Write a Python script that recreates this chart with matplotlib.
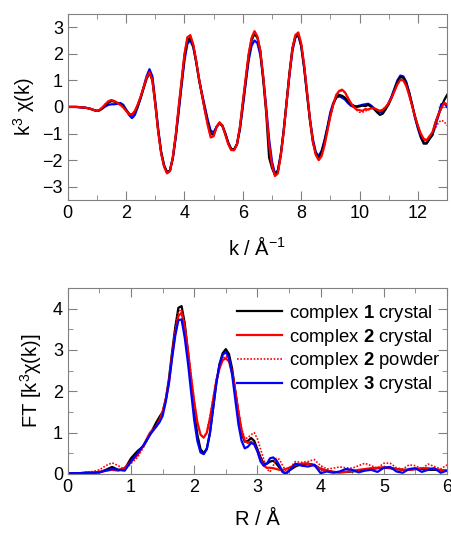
import numpy as np
import matplotlib
matplotlib.use("Agg")
import matplotlib.pyplot as plt
from matplotlib.ticker import MultipleLocator

plt.rcParams['font.family'] = ['Liberation Sans', 'DejaVu Sans']
plt.rcParams['mathtext.fontset'] = 'custom'
plt.rcParams['mathtext.rm'] = 'Liberation Sans'
plt.rcParams['mathtext.bf'] = 'Liberation Sans:bold'

# ---- top panel: k^3 chi(k), k = 0 .. 13 step 0.1
k = np.round(np.arange(0, 13.05, 0.1), 2)

chi_c1 = [0, 0, 0, 0, -0.01, -0.02, -0.03, -0.05, -0.08, -0.12,
          -0.15, -0.12, -0.03, 0.08, 0.17, 0.22, 0.2, 0.15, 0.1, 0.02,
          -0.12, -0.25, -0.3, -0.2, 0.05, 0.35, 0.7, 1.05, 1.28, 1.0,
          0.1, -0.9, -1.7, -2.2, -2.45, -2.4, -1.9, -1.1, -0.1, 0.9,
          1.9, 2.5, 2.6, 2.3, 1.7, 1.0, 0.45, -0.1, -0.6, -1.0,
          -1.05, -0.75, -0.6, -0.7, -1.0, -1.35, -1.58, -1.6, -1.4, -0.8,
          0.1, 1.0, 1.9, 2.5, 2.75, 2.6, 2.1, 1.0, -0.2, -1.9,
          -2.3, -2.55, -2.4, -1.8, -0.9, 0.2, 1.3, 2.2, 2.65, 2.72,
          2.3, 1.5, 0.5, -0.5, -1.3, -1.75, -1.9, -1.7, -1.3, -0.8,
          -0.3, 0.1, 0.35, 0.45, 0.42, 0.35, 0.22, 0.1, 0.05, 0.0,
          0.02, 0.05, 0.03, 0.08, 0.0, -0.08, -0.2, -0.3, -0.25, -0.08,
          0.1, 0.35, 0.65, 0.95, 1.12, 1.1, 0.9, 0.55, 0.1, -0.35,
          -0.75, -1.1, -1.38, -1.38, -1.2, -1.05, -0.6, -0.3, -0.05, 0.25,
          0.45]

chi_c2 = [0, 0, 0, 0, -0.01, -0.02, -0.03, -0.05, -0.08, -0.12,
          -0.15, -0.1, 0.0, 0.12, 0.22, 0.26, 0.22, 0.15, 0.08, -0.02,
          -0.15, -0.27, -0.28, -0.15, 0.1, 0.4, 0.75, 1.1, 1.3, 1.0,
          0.1, -0.95, -1.75, -2.25, -2.5, -2.42, -1.9, -1.05, 0.0, 1.0,
          2.0, 2.62, 2.7, 2.35, 1.75, 1.05, 0.45, -0.15, -0.7, -1.15,
          -1.1, -0.75, -0.58, -0.7, -1.05, -1.4, -1.62, -1.63, -1.4, -0.75,
          0.2, 1.1, 2.0, 2.6, 2.85, 2.65, 2.1, 1.15, -0.1, -1.4,
          -2.2, -2.6, -2.5, -1.85, -0.95, 0.15, 1.25, 2.2, 2.7, 2.8,
          2.4, 1.6, 0.6, -0.45, -1.3, -1.8, -2.0, -1.85, -1.45, -0.9,
          -0.35, 0.1, 0.45, 0.6, 0.65, 0.55, 0.35, 0.15, 0.0, -0.1,
          -0.12, -0.15, -0.08, -0.1, -0.05, -0.05, -0.1, -0.15, -0.1, 0.0,
          0.15, 0.35, 0.6, 0.85, 1.02, 1.0, 0.8, 0.45, 0.05, -0.35,
          -0.7, -1.0, -1.2, -1.25, -1.1, -0.95, -0.6, -0.3, -0.05, 0.15,
          0.1]

chi_c2p = [0, 0, 0, 0, -0.01, -0.02, -0.03, -0.05, -0.08, -0.12,
           -0.15, -0.1, 0.0, 0.12, 0.22, 0.26, 0.22, 0.15, 0.08, -0.02,
           -0.15, -0.27, -0.28, -0.15, 0.1, 0.4, 0.75, 1.1, 1.3, 1.0,
           0.1, -0.95, -1.75, -2.25, -2.5, -2.42, -1.9, -1.05, 0.0, 1.0,
           2.0, 2.62, 2.7, 2.35, 1.75, 1.05, 0.45, -0.15, -0.7, -1.15,
           -1.1, -0.75, -0.58, -0.7, -1.05, -1.4, -1.62, -1.63, -1.4, -0.75,
           0.2, 1.1, 2.0, 2.6, 2.85, 2.65, 2.1, 1.15, -0.1, -1.4,
           -2.2, -2.6, -2.5, -1.85, -0.95, 0.15, 1.25, 2.2, 2.7, 2.8,
           2.4, 1.6, 0.6, -0.45, -1.3, -1.8, -2.0, -1.85, -1.45, -0.9,
           -0.35, 0.1, 0.45, 0.55, 0.62, 0.55, 0.35, 0.15, 0.0, -0.12,
           -0.2, -0.2, -0.15, -0.1, -0.05, -0.05, -0.1, -0.15, -0.1, 0.0,
           0.15, 0.35, 0.6, 0.85, 1.02, 1.0, 0.8, 0.45, 0.05, -0.35,
           -0.7, -1.0, -1.25, -1.3, -1.15, -1.0, -0.8, -0.6, -0.5, -0.55,
           -0.7]

chi_c3 = [0, 0, 0, 0, -0.01, -0.02, -0.03, -0.05, -0.08, -0.12,
          -0.15, -0.12, -0.05, 0.03, 0.08, 0.1, 0.1, 0.12, 0.15, 0.08,
          -0.1, -0.3, -0.42, -0.3, 0.0, 0.35, 0.75, 1.15, 1.42, 1.15,
          0.2, -0.85, -1.7, -2.2, -2.45, -2.4, -1.95, -1.15, -0.2, 0.8,
          1.75, 2.38, 2.5, 2.25, 1.7, 1.05, 0.5, 0.0, -0.5, -0.9,
          -0.95, -0.75, -0.62, -0.72, -1.0, -1.35, -1.58, -1.6, -1.4, -0.85,
          0.0, 0.9, 1.75, 2.3, 2.5, 2.4, 1.95, 1.1, 0.0, -1.2,
          -2.05, -2.5, -2.4, -1.8, -0.9, 0.15, 1.2, 2.1, 2.6, 2.7,
          2.3, 1.5, 0.5, -0.45, -1.2, -1.7, -1.85, -1.65, -1.25, -0.75,
          -0.2, 0.15, 0.35, 0.4, 0.35, 0.28, 0.15, 0.05, 0.0, 0.02,
          0.05, 0.08, 0.1, 0.12, 0.05, -0.05, -0.15, -0.2, -0.18, -0.05,
          0.15, 0.4, 0.7, 1.0, 1.18, 1.15, 0.95, 0.55, 0.1, -0.4,
          -0.8, -1.15, -1.35, -1.35, -1.2, -1.05, -0.7, -0.35, 0.1, 0.15,
          0.0]

# ---- bottom panel: FT magnitude
R = np.round(np.concatenate([np.arange(0, 1.45, 0.1),
                             np.arange(1.45, 3.52, 0.05),
                             np.arange(3.6, 6.05, 0.1)]), 2)

ft_c1 = [0.02, 0.02, 0.02, 0.03, 0.03, 0.04, 0.1, 0.17, 0.1, 0.12,
         0.38, 0.55, 0.68, 0.95, 1.25,
         1.38, 1.5, 1.8, 2.3, 2.95, 3.55, 4.02, 4.06, 3.65, 2.95,
         2.2, 1.5, 0.95, 0.6, 0.5, 0.62, 1.0, 1.6, 2.2, 2.65,
         2.92, 3.02, 2.9, 2.55, 2.0, 1.45, 1.0, 0.78, 0.8, 0.87,
         0.8, 0.6, 0.4, 0.25, 0.25, 0.3, 0.32, 0.25, 0.15, 0.05,
         0.02, 0.08,
         0.18, 0.24, 0.25, 0.22, 0.12, 0.08, 0.05, 0.04, 0.05, 0.06,
         0.08, 0.1, 0.12, 0.14, 0.15, 0.14, 0.12, 0.1, 0.1, 0.12,
         0.12, 0.1, 0.1, 0.09, 0.08]

ft_c2 = [0.02, 0.02, 0.02, 0.03, 0.03, 0.04, 0.08, 0.1, 0.08, 0.15,
         0.3, 0.45, 0.7, 1.0, 1.15,
         1.3, 1.5, 1.8, 2.2, 2.85, 3.4, 3.82, 3.9, 3.55, 3.0,
         2.35, 1.75, 1.25, 0.95, 0.88, 1.0, 1.35, 1.8, 2.25, 2.55,
         2.75, 2.8, 2.72, 2.45, 2.0, 1.5, 1.05, 0.8, 0.75, 0.78,
         0.72, 0.55, 0.35, 0.2, 0.15, 0.15, 0.14, 0.12, 0.1, 0.1,
         0.12, 0.15,
         0.22, 0.25, 0.25, 0.2, 0.12, 0.08, 0.05, 0.04, 0.05, 0.07,
         0.1, 0.12, 0.14, 0.15, 0.16, 0.15, 0.12, 0.1, 0.1, 0.12,
         0.14, 0.14, 0.12, 0.1, 0.08]

ft_c2p = [0.02, 0.02, 0.03, 0.04, 0.06, 0.1, 0.2, 0.27, 0.2, 0.1,
          0.25, 0.4, 0.65, 0.95, 1.15,
          1.3, 1.5, 1.85, 2.3, 2.95, 3.5, 3.92, 3.98, 3.62, 3.05,
          2.4, 1.78, 1.25, 0.95, 0.88, 1.02, 1.4, 1.85, 2.3, 2.6,
          2.8, 2.85, 2.78, 2.5, 2.05, 1.55, 1.1, 0.85, 0.88, 0.95,
          1.0, 0.85, 0.6, 0.35, 0.12, 0.05, 0.2, 0.38, 0.35, 0.2,
          0.08, 0.12,
          0.3, 0.28, 0.3, 0.35, 0.2, 0.12, 0.14, 0.17, 0.15, 0.14,
          0.2, 0.26, 0.2, 0.14, 0.26, 0.26, 0.15, 0.12, 0.22, 0.2,
          0.12, 0.24, 0.18, 0.12, 0.22]

ft_c3 = [0.02, 0.02, 0.02, 0.03, 0.03, 0.04, 0.08, 0.12, 0.1, 0.08,
         0.3, 0.5, 0.7, 0.95, 1.15,
         1.25, 1.4, 1.75, 2.2, 2.8, 3.35, 3.72, 3.74, 3.3, 2.7,
         2.0, 1.3, 0.8, 0.52, 0.48, 0.6, 1.0, 1.6, 2.2, 2.65,
         2.88, 2.95, 2.8, 2.4, 1.8, 1.2, 0.8, 0.62, 0.66, 0.75,
         0.72, 0.55, 0.3, 0.2, 0.25, 0.38, 0.4, 0.33, 0.2, 0.05,
         0.0, 0.08,
         0.25, 0.2, 0.18, 0.22, 0.02, 0.06, 0.03, 0.06, 0.12, 0.1,
         0.04, 0.08, 0.1, 0.05, 0.15, 0.17, 0.06, 0.03, 0.12, 0.14,
         0.05, 0.1, 0.14, 0.03, 0.08]

labels = [r'complex $\mathbf{1}$ crystal', r'complex $\mathbf{2}$ crystal',
          r'complex $\mathbf{2}$ powder', r'complex $\mathbf{3}$ crystal']


def style_axes(ax):
    for sp in ax.spines.values():
        sp.set_color('#808080')
    ax.tick_params(which='both', direction='in', top=True, right=True,
                   color='#808080', labelsize=13, labelcolor='black')
    ax.tick_params(which='major', length=6.5)
    ax.tick_params(which='minor', length=3.5)


def main():
    fig = plt.figure(figsize=(4.52, 5.34), dpi=100)
    ax1 = fig.add_axes([0.150, 0.6255, 0.839, 0.3485])
    ax2 = fig.add_axes([0.150, 0.1124, 0.839, 0.3484])

    # top
    ax1.plot(k, chi_c2p, c='red', lw=1.2, ls=(0, (1, 1)))
    ax1.plot(k, chi_c3, c='blue', lw=1.6)
    ax1.plot(k, chi_c1, c='black', lw=1.6)
    ax1.plot(k, chi_c2, c='red', lw=1.6)
    ax1.set_xlim(0, 13)
    ax1.set_ylim(-3.5, 3.5)
    ax1.xaxis.set_major_locator(MultipleLocator(2))
    ax1.xaxis.set_minor_locator(MultipleLocator(1))
    ax1.yaxis.set_major_locator(MultipleLocator(1))
    style_axes(ax1)
    ax1.set_ylabel('k$^3$ χ(k)', fontsize=14.5, labelpad=4)
    ax1.set_xlabel('k / Å$^{-1}$', fontsize=14.5, labelpad=10)

    # bottom
    ax2.plot(R, ft_c1, c='black', lw=1.6, label=labels[0])
    ax2.plot(R, ft_c2, c='red', lw=1.6, label=labels[1])
    ax2.plot(R, ft_c2p, c='red', lw=1.2, ls=(0, (1, 1)), label=labels[2])
    ax2.plot(R, ft_c3, c='blue', lw=1.6, label=labels[3])
    ax2.set_xlim(0, 6)
    ax2.set_ylim(0, 4.5)
    ax2.xaxis.set_major_locator(MultipleLocator(1))
    ax2.xaxis.set_minor_locator(MultipleLocator(0.5))
    ax2.yaxis.set_major_locator(MultipleLocator(1))
    ax2.yaxis.set_minor_locator(MultipleLocator(0.5))
    style_axes(ax2)
    ax2.set_ylabel('FT [k$^3$χ(k)]', fontsize=14.5, labelpad=6)
    ax2.set_xlabel('R / Å', fontsize=14.5, labelpad=10)
    ax2.legend(loc='upper right', frameon=False, fontsize=13.3,
               handlelength=2.4, handletextpad=0.4, labelspacing=0.15,
               borderaxespad=0.2, bbox_to_anchor=(1.013, 0.98))

    fig.savefig('out.png', dpi=100)


if __name__ == "__main__":
    main()
